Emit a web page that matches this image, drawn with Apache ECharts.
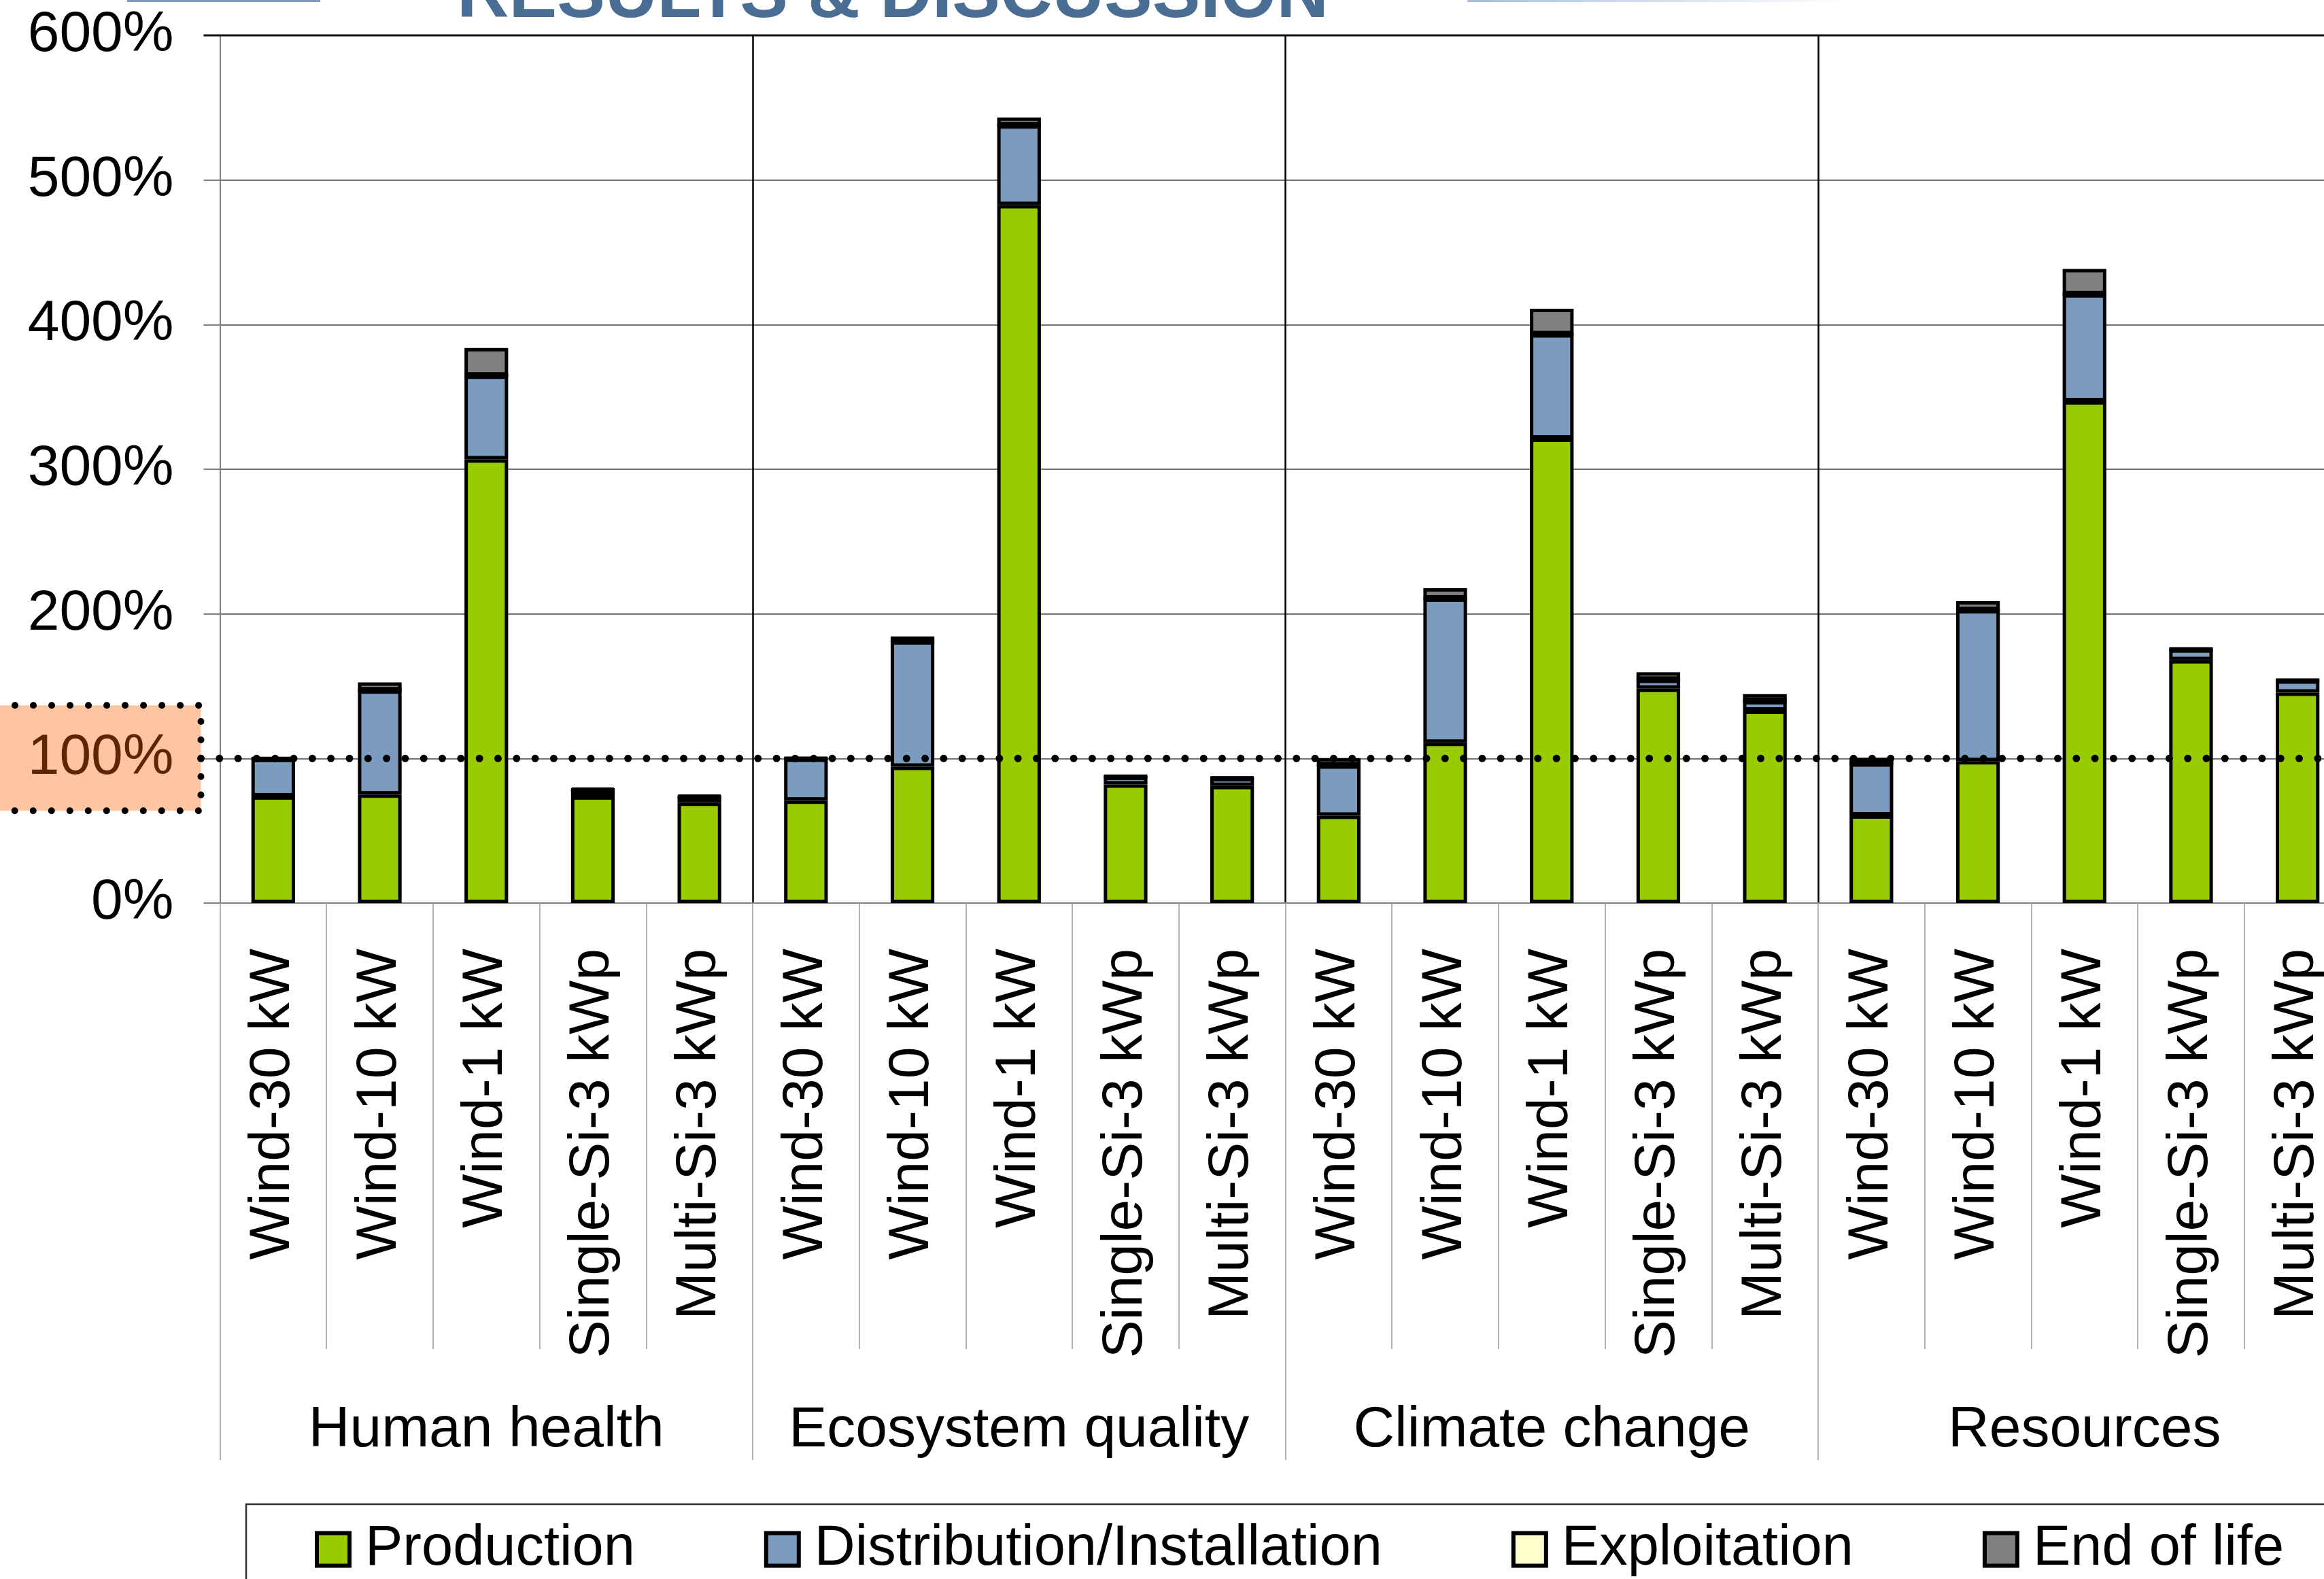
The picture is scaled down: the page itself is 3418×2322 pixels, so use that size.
<!DOCTYPE html>
<html>
<head>
<meta charset="utf-8">
<script src="https://cdn.jsdelivr.net/npm/echarts@6/dist/echarts.min.js"></script>
<style>
html,body{margin:0;padding:0;background:#fff;}
#c{width:3418px;height:2322px;}
</style>
</head>
<body>
<div id="c"></div>
<script>
const groups = ['Human health', 'Ecosystem quality', 'Climate change', 'Resources'];
const technologies = ['Wind-30 kW', 'Wind-10 kW', 'Wind-1 kW', 'Single-Si-3 kWp', 'Multi-Si-3 kWp'];
const yTicks = [0, 100, 200, 300, 400, 500, 600];
const seriesNames = ['Production', 'Distribution/Installation', 'Exploitation', 'End of life'];
const production   = [73.8, 75.1, 306.8, 73.8, 69.5,  70.9, 94.3, 482.7, 82.1, 81.0,  60.4, 110.9, 321.2, 148.2, 133.1,  60.6, 98.1, 347.0, 168.0, 145.5];
const distribution = [26.0, 72.0, 58.0, 4.5, 4.0,     29.0, 86.7, 55.1, 5.4, 5.4,     34.8, 99.7, 72.1, 6.3, 6.5,       36.0, 104.4, 74.0, 7.5, 8.5];
const exploitation = [0, 0, 0, 0, 0,  0, 0, 0, 0, 0,  0, 0, 0, 0, 0,  0, 0, 0, 0, 0];
const endOfLife    = [0.5, 5.5, 19.0, 1.0, 1.0,  0.5, 3.3, 5.4, 0.5, 0.5,  5.1, 7.1, 17.7, 5.1, 4.9,  3.9, 6.3, 17.5, 0.5, 0.5];
const colors = ['#99cc00', '#7b9bbf', '#ffffcc', '#808080'];

const xLabels = [];
groups.forEach(function () { technologies.forEach(function (t) { xLabels.push(t); }); });

const FONT = '"Liberation Sans", Arial, sans-serif';
const chart = echarts.init(document.getElementById('c'), null, { renderer: 'canvas' });

const valuesList = [production, distribution, exploitation, endOfLife];
const series = seriesNames.map(function (name, i) {
  return {
    name: name,
    type: 'bar',
    stack: 'total',
    xAxisIndex: 0,
    barWidth: '41%',
    data: valuesList[i],
    itemStyle: { color: colors[i], borderColor: '#000', borderWidth: 5 },
    emphasis: { disabled: true }
  };
});

chart.setOption({
  animation: false,
  backgroundColor: '#fff',
  grid: { left: 323.5, width: 3134, top: 52, bottom: 994, containLabel: false, outerBoundsMode: 'none' },
  legend: {
    data: seriesNames,
    left: 458, top: 2232, width: 3100,
    itemWidth: 48, itemHeight: 48, itemGap: 190,
    icon: 'rect',
    itemStyle: { borderColor: '#000', borderWidth: 6 },
    textStyle: { fontSize: 83, fontFamily: FONT, color: '#000', padding: [0, 0, 0, 18], lineHeight: 60 }
  },
  xAxis: [
    {
      type: 'category',
      data: xLabels,
      position: 'bottom',
      axisLine: { show: true, lineStyle: { color: '#808080', width: 2 } },
      axisTick: { show: true, length: 656, lineStyle: { color: '#9a9a9a', width: 1.5 } },
      axisLabel: { interval: 0, rotate: 90, margin: 67, fontSize: 84, fontFamily: FONT, color: '#000' },
      splitLine: {
        show: true,
        interval: function (i) { return i > 0 && i % technologies.length === 0; },
        lineStyle: { color: '#000', width: 2.5 }
      }
    },
    {
      type: 'category',
      data: groups,
      position: 'bottom',
      axisLine: { show: false },
      axisTick: { show: true, length: 819, lineStyle: { color: '#9a9a9a', width: 1.5 } },
      axisLabel: { interval: 0, margin: 734, fontSize: 84, fontFamily: FONT, color: '#000' },
      splitLine: { show: false }
    }
  ],
  yAxis: {
    type: 'value',
    min: yTicks[0], max: yTicks[yTicks.length - 1], interval: 100,
    axisLine: { show: true, lineStyle: { color: '#808080', width: 2 } },
    axisTick: { show: true, length: 24, lineStyle: { color: '#808080', width: 2 } },
    axisLabel: {
      margin: 68, fontSize: 84, fontFamily: FONT, color: '#000',
      formatter: function (v) { return v === 100 ? '{h|' + v + '%}' : v + '%'; },
      rich: { h: { color: '#5c2700', fontSize: 84, fontFamily: FONT } }
    },
    splitLine: { show: true, lineStyle: { color: '#454545', width: 1.5 } }
  },
  series: series
});

const y100 = chart.convertToPixel({ yAxisIndex: 0 }, 100);
const y600 = chart.convertToPixel({ yAxisIndex: 0 }, 600);
const catW = chart.convertToPixel({ xAxisIndex: 0 }, 1) - chart.convertToPixel({ xAxisIndex: 0 }, 0);
const xAxisLeft = chart.convertToPixel({ xAxisIndex: 0 }, 0) - catW / 2;
chart.setOption({
  graphic: [
    { type: 'rect', z: -1, shape: { x: -5, y: y100 - 78, width: xAxisLeft - 28 + 5, height: 155 },
      style: { fill: '#fec6a0', stroke: '#000', lineWidth: 10, lineDash: [0.01, 27], lineCap: 'round' } },
    { type: 'line', z: 100, shape: { x1: xAxisLeft - 28, y1: y100, x2: 3418, y2: y100 },
      style: { stroke: '#000', lineWidth: 11, lineDash: [0.01, 27.3], lineCap: 'round' } },
    { type: 'line', z: 5, shape: { x1: xAxisLeft - 24, y1: y600, x2: 3418, y2: y600 },
      style: { stroke: '#111', lineWidth: 3 } },
    { type: 'text', z: 10, x: 1313, y: -4,
      style: { text: 'RESULTS & DISCUSSION', font: 'bold 106px ' + FONT, fill: '#4a6d94', align: 'center', verticalAlign: 'middle' } },
    { type: 'rect', z: 10, shape: { x: 187, y: 0, width: 284, height: 3 }, style: { fill: '#7f9cc0' } },
    { type: 'rect', z: 10, shape: { x: 2158, y: 0, width: 560, height: 3 },
      style: { fill: new echarts.graphic.LinearGradient(0, 0, 1, 0, [{ offset: 0, color: '#a9bfd8' }, { offset: 1, color: '#ffffff' }]) } },
    { type: 'rect', z: -1, shape: { x: 362, y: 2212, width: 3200, height: 300 },
      style: { fill: 'none', stroke: '#303030', lineWidth: 2.5 } }
  ]
});
</script>
</body>
</html>
